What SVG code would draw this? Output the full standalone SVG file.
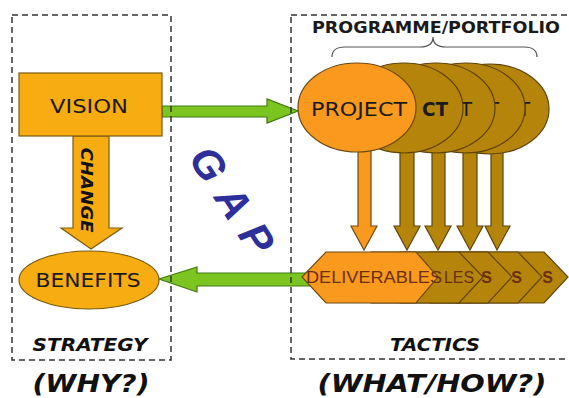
<svg xmlns="http://www.w3.org/2000/svg" width="569" height="398" viewBox="0 0 569 398">
<style>
.box{fill:none;stroke:#333;stroke-width:1.5;stroke-dasharray:6 4}
.gold{fill:#F7AC12;stroke:#7A5A10;stroke-width:1.2}
.orange{fill:#F99A1E;stroke:#6E4A10;stroke-width:1.2}
.brown{fill:#B5850B;stroke:#5E4308;stroke-width:1.2}
.green{fill:#7CC520;stroke:#3F7A10;stroke-width:1.2}
.lbl{font-family:"DejaVu Sans",Verdana,sans-serif;fill:#1a1a1a}
.bi{font-family:"DejaVu Sans",Verdana,sans-serif;font-weight:bold;font-style:italic;fill:#111}
.del{font-family:"Liberation Sans",Arial,sans-serif;fill:#6A2E12}
</style>
<rect width="569" height="398" fill="#fff"/>
<g id="connectors">
  <polygon class="green" points="162,106 267,106 267,99 298,111 267,123 267,117 162,117"/>
  <polygon class="green" points="310,273 197,273 197,267 159,279 197,292 197,286 310,286"/>
  <polygon class="gold" points="73,136 109,136 109,228 122,228 91,249 61,228 73,228"/>
  <text class="bi" transform="translate(81,190) rotate(90)" font-size="15" text-anchor="middle" textLength="85" lengthAdjust="spacingAndGlyphs">CHANGE</text>
  <polygon class="brown" points="491,140 503,140 503,226 510,226 497,250 485,226 491,226"/>
  <polygon class="brown" points="463,140 477,140 477,226 483,226 470,250 457,226 463,226"/>
  <polygon class="brown" points="432,140 445,140 445,226 451,226 438,250 425,226 432,226"/>
  <polygon class="brown" points="400,140 414,140 414,226 420,226 407,250 394,226 400,226"/>
  <polygon class="orange" points="358,140 371,140 371,226 377,226 364,250 351,226 358,226"/>
</g>
<g id="strategy-box"><rect class="box" x="12" y="15" width="159" height="345"/></g>
<g id="tactics-box"><rect class="box" x="291" y="15" width="290" height="344"/></g>
<g id="vision">
  <rect class="gold" x="19" y="73" width="143" height="63"/>
  <text class="lbl" x="89" y="113" font-size="19" text-anchor="middle" textLength="78" lengthAdjust="spacingAndGlyphs">VISION</text>
</g>
<g id="benefits">
  <ellipse class="gold" cx="89" cy="280" rx="70" ry="29"/>
  <text class="lbl" x="88" y="287" font-size="20" text-anchor="middle" textLength="105" lengthAdjust="spacingAndGlyphs">BENEFITS</text>
</g>
<g id="gap">
  <text transform="translate(233,201) rotate(57)" y="15" font-family="'Liberation Sans',Arial,sans-serif" font-weight="bold" font-style="italic" font-size="42" letter-spacing="2" fill="#2D2F9A" text-anchor="middle">G A P</text>
</g>
<g id="programme">
  <text x="436" y="33" font-family="'DejaVu Sans',Verdana,sans-serif" font-weight="bold" font-size="16" fill="#1a1a1a" text-anchor="middle" textLength="248" lengthAdjust="spacingAndGlyphs">PROGRAMME/PORTFOLIO</text>
  <path d="M332,57 Q332,47 345,47 L420,47 Q433,47 433,37 Q433,47 446,47 L524,47 Q537,47 537,57" fill="none" stroke="#555" stroke-width="1.2"/>
</g>
<g id="project-5">
  <ellipse class="brown" cx="490" cy="109" rx="59" ry="45"/>
  <text class="lbl" x="530" y="116" font-size="19" fill="#555" text-anchor="end">T</text>
</g>
<g id="project-4">
  <ellipse class="brown" cx="466" cy="108" rx="59" ry="45"/>
  <text class="lbl" x="499" y="116" font-size="19" fill="#555" text-anchor="end">T</text>
</g>
<g id="project-3">
  <ellipse class="brown" cx="436" cy="108" rx="59" ry="45"/>
  <text class="lbl" x="472" y="116" font-size="19" fill="#555" text-anchor="end">T</text>
</g>
<g id="project-2">
  <ellipse class="brown" cx="404" cy="108" rx="59" ry="45"/>
  <text class="lbl" x="448" y="116" font-size="19" font-weight="bold" text-anchor="end" textLength="26" lengthAdjust="spacingAndGlyphs">CT</text>
</g>
<g id="project-1">
  <ellipse class="orange" cx="357" cy="107.5" rx="59" ry="44.5"/>
  <text class="lbl" x="359" y="116" font-size="19" text-anchor="middle" textLength="96" lengthAdjust="spacingAndGlyphs">PROJECT</text>
</g>
<g id="deliverables-5">
  <polygon class="brown" points="432,277 456,252 544,252 568,277 544,303 456,303"/>
  <text class="del" x="553" y="283" font-size="16" font-weight="bold" text-anchor="end">S</text>
</g>
<g id="deliverables-4">
  <polygon class="brown" points="406,277 430,252 518,252 542,277 518,303 430,303"/>
  <text class="del" x="522" y="283" font-size="16" font-weight="bold" text-anchor="end">S</text>
</g>
<g id="deliverables-3">
  <polygon class="brown" points="376,277 400,252 488,252 512,277 488,303 400,303"/>
  <text class="del" x="492" y="283" font-size="16" font-weight="bold" text-anchor="end">S</text>
</g>
<g id="deliverables-2">
  <polygon class="brown" points="347,277 371,252 459,252 483,277 459,303 371,303"/>
  <text class="del" x="474" y="283" font-size="16" text-anchor="end" textLength="30" lengthAdjust="spacingAndGlyphs">LES</text>
</g>
<g id="deliverables-1">
  <polygon class="orange" points="302,277 326,252 416,252 438,277 416,303 326,303"/>
  <text class="del" x="374" y="283" font-size="16" text-anchor="middle" textLength="136" lengthAdjust="spacingAndGlyphs">DELIVERABLES</text>
</g>
<g id="labels">
  <text class="bi" x="90" y="351" font-size="17" text-anchor="middle" textLength="115" lengthAdjust="spacingAndGlyphs">STRATEGY</text>
  <text class="bi" x="435" y="351" font-size="17" text-anchor="middle" textLength="90" lengthAdjust="spacingAndGlyphs">TACTICS</text>
  <text class="bi" x="91" y="392" font-size="25" text-anchor="middle" textLength="117" lengthAdjust="spacingAndGlyphs">(WHY?)</text>
  <text class="bi" x="432" y="392" font-size="25" text-anchor="middle" textLength="229" lengthAdjust="spacingAndGlyphs">(WHAT/HOW?)</text>
</g>
</svg>
